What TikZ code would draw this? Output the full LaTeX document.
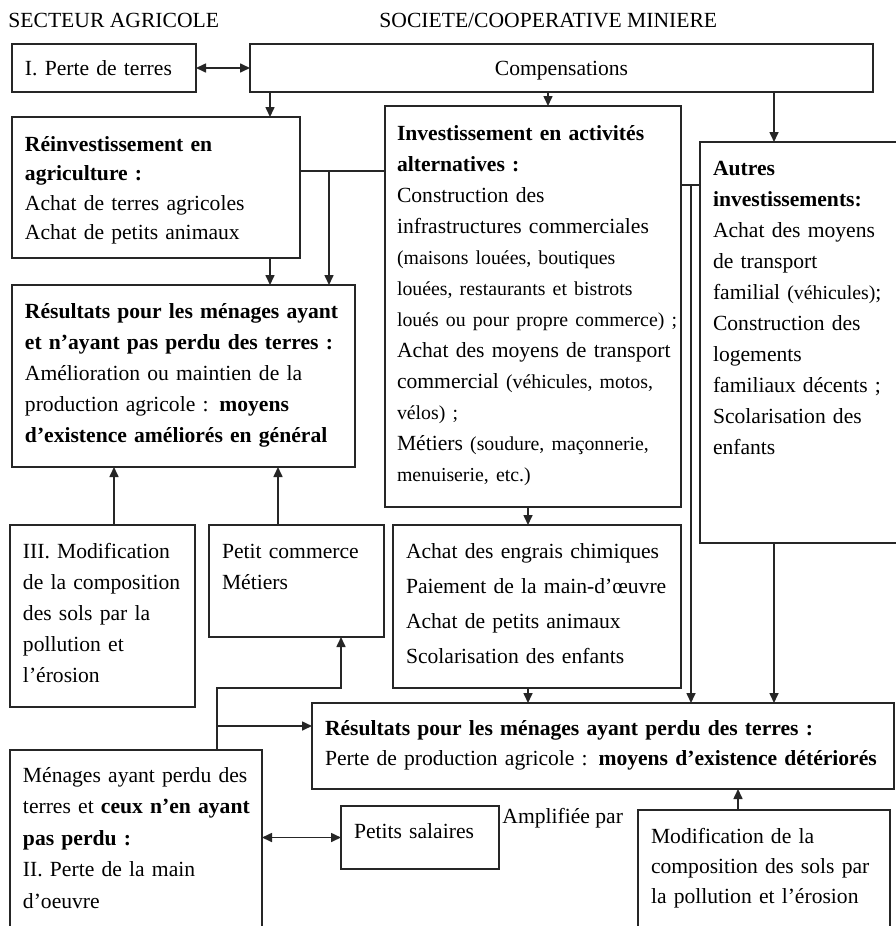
\documentclass[tikz,border=0pt]{standalone}
\usepackage{fontspec}
\setmainfont{Liberation Serif}
\usetikzlibrary{arrows.meta}
\newcommand\petit[1]{{\fontsize{9.9}{15.5}\selectfont #1}}

\begin{document}
\begin{tikzpicture}[
    x=0.5pt, y=-0.5pt,
    font=\fontsize{10.8}{15.5}\selectfont,
    box/.style={rectangle, draw=black!85, line width=0.9pt, anchor=north west, align=left, inner xsep=6.5pt, inner ysep=0pt, outer sep=0pt, text height=16.5pt,
        execute at begin node={\rightskip=-12pt plus 1fil\relax}},
    title/.style={anchor=base west, inner sep=0pt},
    link/.style={line width=0.8pt, draw=black!85},
    arrow/.style={-{Triangle[length=5pt, width=4.5pt]}, line width=0.8pt, draw=black!85},
    dblarrow/.style={{Triangle[length=5pt, width=4.5pt]}-{Triangle[length=5pt, width=4.5pt]}, line width=0.8pt, draw=black!85}
]
\path[use as bounding box, fill=white] (0,0) rectangle (895,926);

\node[title] (agri) at (8,27) {SECTEUR AGRICOLE};
\node[title] (mine) at (379,27) {SOCIETE/COOPERATIVE MINIERE};

% top row
\node[box, text width=79pt, text height=15.5pt, text depth=8.5pt] (perte) at (12,44) {I. Perte de terres};
\node[box, minimum width=311.5pt, text height=15.5pt, text depth=8.5pt] (comp) at (250,44) {Compensations};

% investments
\node[box, text width=131pt, text height=17pt, text depth=53.5pt, font=\fontsize{10.8}{14.75}\selectfont] (reinv) at (12,117)
    {\textbf{Réinvestissement en}\\\textbf{agriculture :}\\Achat de terres agricoles\\Achat de petits animaux};
\node[box, inner xsep=6pt, text width=136pt, text height=17pt, text depth=183.5pt] (alt) at (385,106)
    {\textbf{Investissement en activités}\\\textbf{alternatives :}\\Construction des\\infrastructures commerciales\\
     \petit{(maisons louées, boutiques}\\\petit{louées, restaurants et bistrots}\\\petit{loués ou pour propre commerce) ;}\\
     Achat des moyens de transport\\commercial \petit{(véhicules, motos,}\\\petit{vélos) ;}\\
     Métiers \petit{(soudure, maçonnerie,}\\\petit{menuiserie, etc.)}};
\node[box, text width=92pt, text depth=184pt] (autres) at (700,142)
    {\textbf{Autres}\\\textbf{investissements:}\\Achat des moyens\\de transport\\familial \petit{(véhicules)};\\
     Construction des\\logements\\familiaux décents ;\\Scolarisation des\\enfants};

% results and causes
\node[box, text width=158.5pt, text depth=74.5pt] (res1) at (12,285)
    {\textbf{Résultats pour les ménages ayant}\\\textbf{et n’ayant pas perdu des terres :}\\Amélioration ou maintien de la\\
     production agricole : \textbf{moyens}\\\textbf{d’existence améliorés en général}};
\node[box, text width=79.5pt, text depth=74.5pt] (sol) at (10,525)
    {III. Modification\\de la composition\\des sols par la\\pollution et\\l’érosion};
\node[box, text width=74.5pt, text depth=39.5pt] (petcom) at (209,525) {Petit commerce\\Métiers};
\node[box, text width=131pt, text depth=65pt, font=\fontsize{10.8}{17.5}\selectfont] (engrais) at (393,525)
    {Achat des engrais chimiques\\Paiement de la main-d’œuvre\\Achat de petits animaux\\Scolarisation des enfants};
\node[box, text width=278pt, text height=16pt, text depth=27pt, font=\fontsize{10.8}{15}\selectfont] (res2) at (312,703)
    {\textbf{Résultats pour les ménages ayant perdu des terres :}\\Perte de production agricole : \textbf{moyens d’existence détériorés}};
\node[box, text width=113pt, text height=16pt, text depth=84pt, font=\fontsize{10.8}{15.75}\selectfont] (menages) at (10,750)
    {Ménages ayant perdu des\\terres et \textbf{ceux n’en ayant}\\\textbf{pas perdu :}\\II. Perte de la main\\d’oeuvre};
\node[box, text width=66pt, text height=16pt, text depth=15.5pt] (petsal) at (341,806) {Petits salaires};
\node[title] (amplif) at (502,823) {Amplifiée par};
\node[box, text width=113pt, text depth=53.5pt, font=\fontsize{10.8}{15}\selectfont] (modif) at (638,810)
    {Modification de la\\composition des sols par\\la pollution et l’érosion};

% columns and rows of the connectors
\coordinate (reinvcol) at (270,0);
\coordinate (altcol) at (548,0);
\coordinate (autrecol) at (774,0);
\coordinate (rescol) at (329,0);
\coordinate (sidecol) at (691,0);
\coordinate (solcol) at (114,0);
\coordinate (tradecol) at (278,0);
\coordinate (engcol) at (528,0);
\coordinate (hhcol) at (217,0);
\coordinate (petcol) at (341,0);
\coordinate (modcol) at (738,0);
\coordinate (linkrow) at (0,171);
\coordinate (siderow) at (0,185);
\coordinate (hhrow) at (0,688);
\coordinate (resrow) at (0,726);

\draw[dblarrow] (perte.east) -- (comp.west);
\draw[arrow] (comp.south -| reinvcol) -- (reinv.north -| reinvcol);
\draw[arrow] (comp.south -| altcol) -- (alt.north -| altcol);
\draw[arrow] (comp.south -| autrecol) -- (autres.north -| autrecol);
\draw[link] (reinv.east |- linkrow) -- (alt.west |- linkrow);
\draw[arrow] (rescol |- linkrow) -- (res1.north -| rescol);
\draw[arrow] (reinv.south -| reinvcol) -- (res1.north -| reinvcol);
\draw[arrow] (sol.north -| solcol) -- (res1.south -| solcol);
\draw[arrow] (petcom.north -| tradecol) -- (res1.south -| tradecol);
\draw[arrow] (alt.south -| engcol) -- (engrais.north -| engcol);
\draw[link] (alt.east |- siderow) -- (autres.west |- siderow);
\draw[arrow] (sidecol |- siderow) -- (res2.north -| sidecol);
\draw[arrow] (engrais.south -| engcol) -- (res2.north -| engcol);
\draw[arrow] (autres.south -| autrecol) -- (res2.north -| autrecol);
\draw[arrow] (menages.north -| hhcol) -- (hhcol |- hhrow) -- (petcol |- hhrow) -- (petcom.south -| petcol);
\draw[arrow] (hhcol |- resrow) -- (res2.west |- resrow);
\draw[dblarrow] (menages.east |- petsal.west) -- (petsal.west);
\draw[arrow] (modif.north -| modcol) -- (res2.south -| modcol);

\end{tikzpicture}
\end{document}
